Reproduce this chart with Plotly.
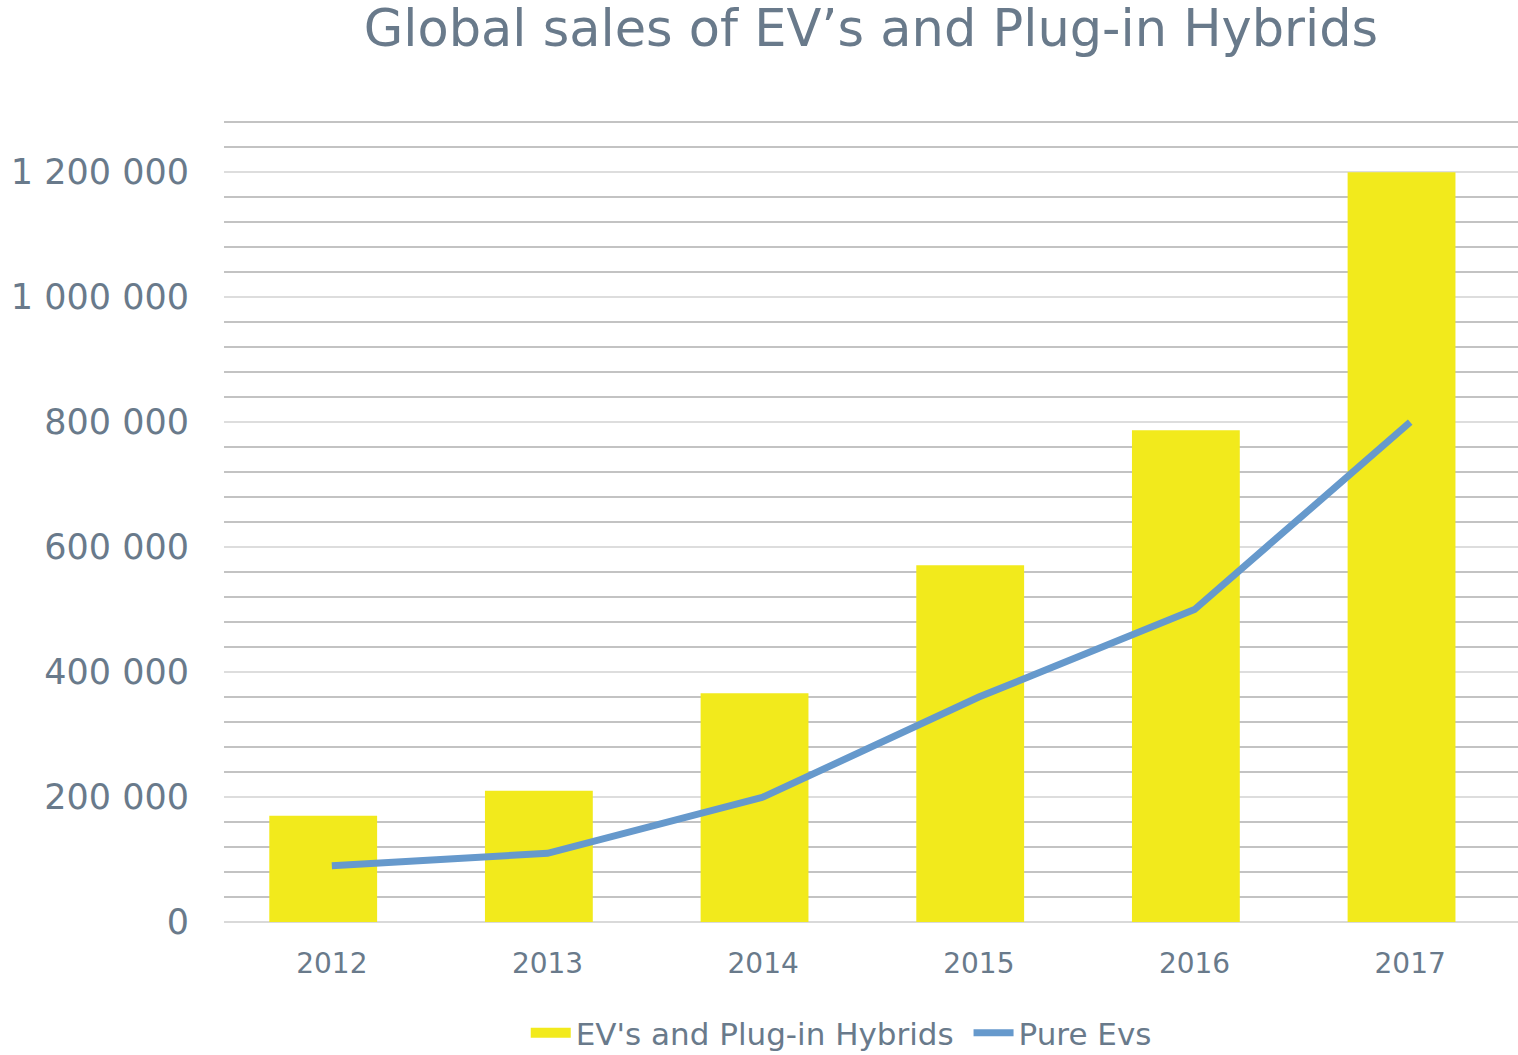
import plotly.graph_objects as go

years = ["2012", "2013", "2014", "2015", "2016", "2017"]
ev_and_phev = [170000, 210000, 366000, 571000, 787000, 1200000]
pure_evs = [90000, 110000, 200000, 360000, 500000, 800000]

TEXT = "#697a8b"
FONT = "DejaVu Sans"
YELLOW = "#f2ea1c"
BLUE = "#6699cc"

fig = go.Figure()
fig.add_trace(go.Bar(
    x=years, y=ev_and_phev, name="EV's and Plug-in Hybrids",
    marker=dict(color=YELLOW, line=dict(width=0)),
    width=0.5, offset=-0.29, showlegend=False,
))
# legend proxy for the bars (wide rectangular swatch)
fig.add_trace(go.Scatter(
    x=[None], y=[None], name="EV's and Plug-in Hybrids\u00a0", mode="lines",
    line=dict(color=YELLOW, width=15),
))
fig.add_trace(go.Scatter(
    x=years, y=pure_evs, name="Pure Evs", mode="lines",
    line=dict(color=BLUE, width=7),
))

fig.update_layout(
    width=1518, height=1055,
    margin=dict(l=224, r=0, t=121, b=133, autoexpand=False),
    paper_bgcolor="white", plot_bgcolor="white",
    separators=". ",
    font=dict(family=FONT, color=TEXT),
    title=dict(text="Global sales of EV’s and Plug-in Hybrids",
               x=0.5, xref="paper", xanchor="center",
               y=0.9735, yref="container", yanchor="middle",
               font=dict(size=51, color=TEXT, family=FONT)),
    legend=dict(orientation="h", x=0.477, xref="paper", xanchor="center",
                y=-0.1386, yanchor="middle",
                font=dict(size=31, color=TEXT, family=FONT),
                itemwidth=40),
    showlegend=True,
)
fig.update_xaxes(
    showgrid=False, showline=False, zeroline=False,
    tickfont=dict(size=28, color=TEXT),
    ticks="outside", ticklen=16, tickcolor="rgba(0,0,0,0)",
)
fig.update_yaxes(
    range=[0, 1282000],
    dtick=200000, tickformat=",d",
    showgrid=True, gridcolor="#dddddd", gridwidth=2,
    zeroline=True, zerolinecolor="#d9d9d9", zerolinewidth=2,
    showline=False,
    tickfont=dict(size=35, color=TEXT),
    ticks="outside", ticklen=27, tickcolor="rgba(0,0,0,0)",
    minor=dict(dtick=40000, showgrid=True, gridcolor="#c3c3c3", gridwidth=2),
)

fig.write_html("out.html")
